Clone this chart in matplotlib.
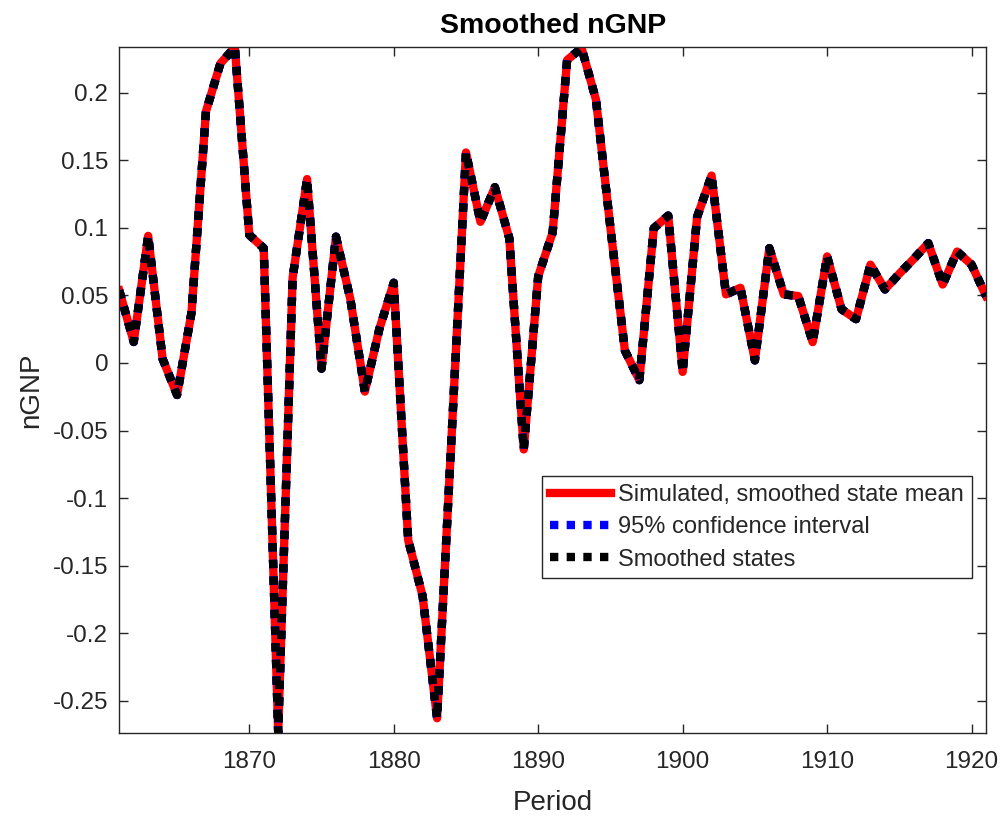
import matplotlib
matplotlib.use('Agg')
import matplotlib.pyplot as plt
from matplotlib.ticker import FuncFormatter

plt.rcParams['font.family'] = ['Liberation Sans', 'DejaVu Sans']

# smoothed nGNP, one value per year
years = list(range(1861, 1922))
smoothed = [
    0.0536, 0.0155, 0.094, 0.003, -0.0237, 0.0373, 0.186, 0.2215, 0.2335, 0.0947,
    0.0849, -0.2735, 0.063, 0.136, -0.0042, 0.0934, 0.047, -0.0212, 0.025, 0.0593,
    -0.131, -0.1725, -0.2628, -0.055, 0.1557, 0.1044, 0.13, 0.0922, -0.064, 0.0641,
    0.0965, 0.224, 0.233, 0.1947, 0.1, 0.0092, -0.0127, 0.0996, 0.109, -0.0066,
    0.108, 0.1386, 0.0507, 0.0556, 0.0019, 0.0849, 0.0507, 0.0495, 0.0154, 0.0788,
    0.0397, 0.0324, 0.0727, 0.0544, 0.066, 0.077, 0.0886, 0.058, 0.0824, 0.0727,
    0.0495,
]
# simulated mean and the 95% band coincide with the smoothed states
sim_mean = smoothed
ci_lower = smoothed
ci_upper = smoothed

xticks = [1870, 1880, 1890, 1900, 1910, 1920]
yticks = [-0.25, -0.2, -0.15, -0.1, -0.05, 0, 0.05, 0.1, 0.15, 0.2]

axcol = '#262626'

fig = plt.figure(figsize=(10.04, 8.18), dpi=100)
ax = fig.add_axes([0.1188, 0.1043, 0.8633, 0.8379])

lw = 6.0
ax.plot(years, sim_mean, color='red', lw=lw, label='Simulated, smoothed state mean')
ax.plot(years, ci_lower, color='blue', lw=lw, ls=(0, (1, 1)), dash_capstyle='butt',
        label='95% confidence interval')
ax.plot(years, ci_upper, color='blue', lw=lw, ls=(0, (1, 1)), dash_capstyle='butt')
ax.plot(years, smoothed, color='black', lw=lw, ls=(0, (1, 1)), dash_capstyle='butt',
        label='Smoothed states')

ax.set_xlim(1861, 1921)
ax.set_ylim(min(smoothed), max(smoothed))
ax.set_xticks(xticks)
ax.set_yticks(yticks)
ax.yaxis.set_major_formatter(FuncFormatter(lambda v, p: '%g' % round(v, 2)))

ax.tick_params(direction='in', length=6.5, width=1.0, colors=axcol,
               top=True, right=True, labelsize=17.5)
ax.tick_params(axis='x', pad=13.5)
ax.tick_params(axis='y', pad=8)
for s in ax.spines.values():
    s.set_color(axcol)
    s.set_linewidth(1.0)

ax.set_xlabel('Period', fontsize=20, color=axcol, labelpad=12)
ax.set_ylabel('nGNP', fontsize=20, color=axcol, labelpad=6)
ax.set_title('Smoothed nGNP', fontsize=20.5, fontweight='bold', pad=10)

leg = ax.legend(loc='upper right', bbox_to_anchor=(0.9835, 0.3745), borderaxespad=0,
                fontsize=17, handlelength=2.6, handletextpad=0.3, labelspacing=0.44,
                borderpad=0.33, fancybox=False, framealpha=1)
leg.get_frame().set_edgecolor(axcol)
leg.get_frame().set_linewidth(1.0)
for t in leg.get_texts():
    t.set_color(axcol)

fig.savefig('out.png', dpi=100)
